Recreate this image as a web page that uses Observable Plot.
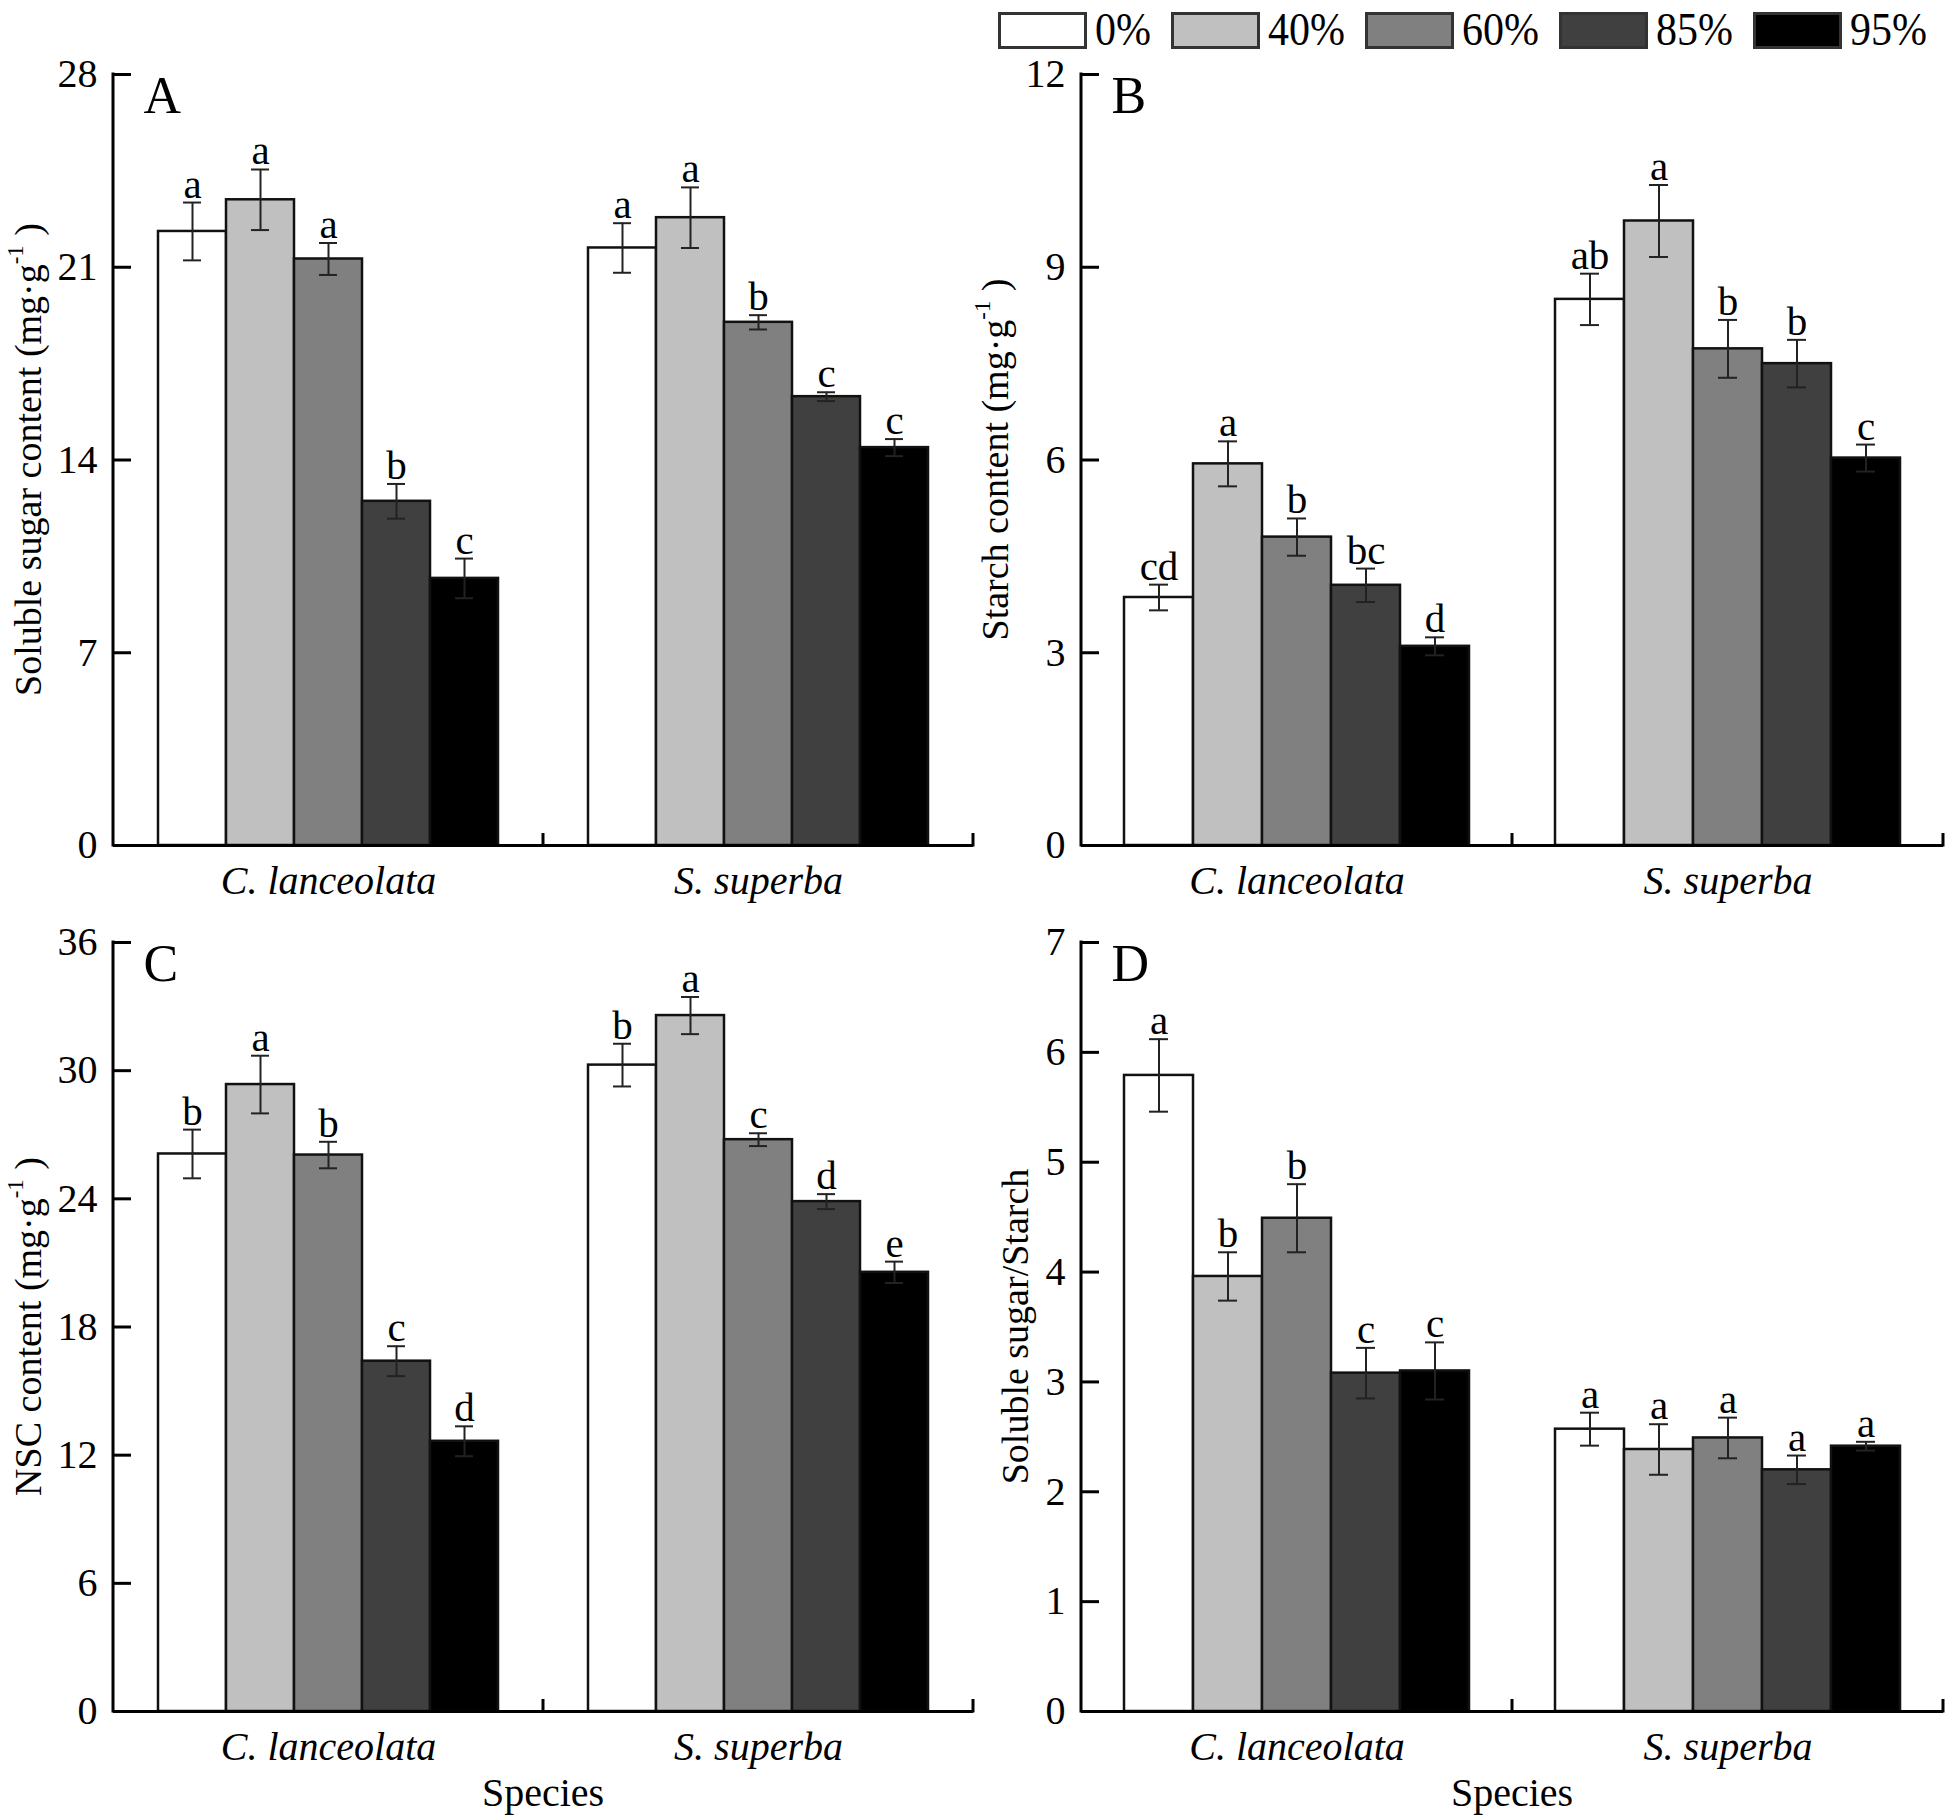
<!DOCTYPE html>
<html>
<head>
<meta charset="utf-8">
<script src="https://cdn.jsdelivr.net/npm/d3@7"></script>
<script src="https://cdn.jsdelivr.net/npm/@observablehq/plot@0.6"></script>
<style>
  body { margin: 0; background: #fff; }
  #fig { position: relative; width: 1946px; height: 1817px; font-family: "Liberation Serif", "Times New Roman", serif; color: #000; overflow: hidden; }
  .panel { position: absolute; }
  #legend { position: absolute; left: 998px; top: 9px; display: flex; align-items: center; }
  .item { display: flex; align-items: center; margin-right: 20px; }
  .swatch { box-sizing: border-box; width: 89px; height: 37px; border: 3px solid #333; }
  .lab { font-size: 42px; line-height: 1; margin-left: 8px; transform: scaleY(1.1); }
  .xtitle { position: absolute; font-size: 40px; line-height: 1; transform: translate(-50%, -50%); white-space: nowrap; }
</style>
</head>
<body>
<div id="fig"></div>
<script>
// ---- categories ----
const shades = ["0%", "40%", "60%", "85%", "95%"];
const species = ["C. lanceolata", "S. superba"];
const shadeColors = ["#ffffff", "#c0c0c0", "#808080", "#404040", "#000000"];

// ---- A: soluble sugar ----
const sugarMean = [[22.3, 23.45, 21.3, 12.5, 9.7], [21.7, 22.8, 19.0, 16.3, 14.45]];
const sugarErr  = [[1.05, 1.1, 0.58, 0.63, 0.72], [0.9, 1.1, 0.26, 0.16, 0.31]];
const sugarSig  = [["a", "a", "a", "b", "c"], ["a", "a", "b", "c", "c"]];
const sugarTicks = [0, 7, 14, 21, 28];

// ---- B: starch ----
const starchMean = [[3.86, 5.94, 4.8, 4.05, 3.1], [8.5, 9.72, 7.73, 7.5, 6.03]];
const starchErr  = [[0.2, 0.35, 0.29, 0.26, 0.14], [0.4, 0.56, 0.45, 0.37, 0.21]];
const starchSig  = [["cd", "a", "b", "bc", "d"], ["ab", "a", "b", "b", "c"]];
const starchTicks = [0, 3, 6, 9, 12];

// ---- C: NSC ----
const nscMean = [[26.1, 29.35, 26.05, 16.4, 12.65], [30.26, 32.58, 26.77, 23.87, 20.56]];
const nscErr  = [[1.14, 1.35, 0.62, 0.7, 0.7], [1.0, 0.87, 0.3, 0.35, 0.5]];
const nscSig  = [["b", "a", "b", "c", "d"], ["b", "a", "c", "d", "e"]];
const nscTicks = [0, 6, 12, 18, 24, 30, 36];

// ---- D: soluble sugar / starch ----
const ratioMean = [[5.79, 3.96, 4.49, 3.08, 3.1], [2.57, 2.385, 2.49, 2.2, 2.415]];
const ratioErr  = [[0.33, 0.22, 0.31, 0.23, 0.26], [0.15, 0.23, 0.185, 0.13, 0.04]];
const ratioSig  = [["a", "b", "b", "c", "c"], ["a", "a", "a", "a", "a"]];
const ratioTicks = [0, 1, 2, 3, 4, 5, 6, 7];

const fig = document.getElementById("fig");
const FONT = "Liberation Serif";

function panel(cfg) {
  const rows = [];
  species.forEach((sp, i) => shades.forEach((sh, j) => rows.push({
    species: sp, shade: sh, mean: cfg.mean[i][j], err: cfg.err[i][j], sig: cfg.sig[i][j]
  })));
  const yMax = cfg.ticks[cfg.ticks.length - 1];
  const chart = Plot.plot({
    width: cfg.width, height: cfg.height,
    marginTop: cfg.mTop, marginBottom: cfg.mBottom, marginLeft: cfg.mLeft, marginRight: cfg.mRight,
    style: { fontFamily: FONT, fontSize: "40px", color: "#000", background: "transparent", overflow: "visible" },
    fx: { domain: species, paddingInner: 0, paddingOuter: 0, axis: null, label: null },
    x: { domain: shades, paddingInner: 0, paddingOuter: 0.616, axis: null },
    y: { domain: [0, yMax], axis: null },
    color: { domain: shades, range: shadeColors },
    marks: [
      Plot.barY(rows, { fx: "species", x: "shade", y: "mean", fill: "shade", stroke: "#111", strokeWidth: 2.5 }),
      Plot.ruleX(rows, { fx: "species", x: "shade", y1: d => d.mean - d.err, y2: d => d.mean + d.err, stroke: "#222", strokeWidth: 2 }),
      Plot.tickY(rows, { fx: "species", x: "shade", y: d => d.mean + d.err, insetLeft: 25, insetRight: 25, stroke: "#222", strokeWidth: 2 }),
      Plot.tickY(rows, { fx: "species", x: "shade", y: d => d.mean - d.err, insetLeft: 25, insetRight: 25, stroke: "#222", strokeWidth: 2 }),
      Plot.text(rows, { fx: "species", x: "shade", y: d => d.mean + d.err, text: "sig", lineAnchor: "bottom", dy: -5, fontSize: 41, fill: "#000" }),
      Plot.ruleY([0], { stroke: "#000", strokeWidth: 3 }),
      Plot.axisY({ ticks: cfg.ticks, tickFormat: d => String(d), tickSize: -18, tickPadding: 34, strokeWidth: 3, fontSize: 40, label: null }),
      Plot.text(species, { fx: d => d, text: d => d, frameAnchor: "bottom", dy: 36, lineAnchor: "middle", fontStyle: "italic", fontSize: 40, fill: "#000" }),
      Plot.text([cfg.letter], { fx: () => species[0], text: d => d, frameAnchor: "top-left", textAnchor: "start", lineAnchor: "top", dx: 30, dy: 2, fontSize: 52, fill: "#000" })
    ]
  });

  // axis line, group separators and y title drawn from the library's scales
  const y = chart.scale("y");
  const fx = chart.scale("fx");
  const svg = d3.select(chart);
  const y0 = y.apply(0), yTop = y.apply(yMax);
  const bw = fx.bandwidth != null ? fx.bandwidth : (fx.range[1] - fx.range[0]) / species.length;
  const xLeft = fx.apply(species[0]);
  const g = svg.append("g").attr("stroke", "#000").attr("stroke-width", 3).attr("fill", "none");
  g.append("line").attr("x1", xLeft).attr("x2", xLeft).attr("y1", y0 + 1.5).attr("y2", yTop - 1.5);
  species.forEach(sp => {
    const xr = fx.apply(sp) + bw;
    g.append("line").attr("x1", xr).attr("x2", xr).attr("y1", y0 + 1.5).attr("y2", y0 - 12);
  });
  const t = svg.append("text")
    .attr("transform", `translate(${cfg.labelX},${(y0 + yTop) / 2}) rotate(-90)`)
    .attr("text-anchor", "middle").attr("dominant-baseline", "central")
    .attr("font-family", FONT).attr("font-size", 38).attr("fill", "#000");
  t.append("tspan").text(cfg.yLabel);
  if (cfg.sup) {
    t.append("tspan").attr("baseline-shift", "super").attr("font-size", "60%").text(cfg.sup);
    t.append("tspan").text(cfg.after);
  }

  chart.classList.add("panel");
  chart.style.left = cfg.left + "px";
  chart.style.top = cfg.top + "px";
  fig.appendChild(chart);
}

const topRow = { top: 50, height: 860, mTop: 24, mBottom: 65 };
const botRow = { top: 918, height: 899, mTop: 24, mBottom: 106 };
const leftCol = { left: 0, width: 980, mLeft: 113, mRight: 7 };
const rightCol = { left: 966, width: 980, mLeft: 115, mRight: 3 };

panel({ ...topRow, ...leftCol, mean: sugarMean, err: sugarErr, sig: sugarSig, ticks: sugarTicks, letter: "A",
  yLabel: "Soluble sugar content (mg·g", sup: "-1", after: " )", labelX: 28 });
panel({ ...topRow, ...rightCol, mean: starchMean, err: starchErr, sig: starchSig, ticks: starchTicks, letter: "B",
  yLabel: "Starch content (mg·g", sup: "-1", after: " )", labelX: 29 });
panel({ ...botRow, ...leftCol, mean: nscMean, err: nscErr, sig: nscSig, ticks: nscTicks, letter: "C",
  yLabel: "NSC content (mg·g", sup: "-1", after: " )", labelX: 28 });
panel({ ...botRow, ...rightCol, mean: ratioMean, err: ratioErr, sig: ratioSig, ticks: ratioTicks, letter: "D",
  yLabel: "Soluble sugar/Starch", labelX: 49 });

// x titles
[[543, 1793], [1512, 1793]].forEach(([x, yy]) => {
  const d = document.createElement("div");
  d.className = "xtitle";
  d.style.left = x + "px"; d.style.top = yy + "px";
  d.textContent = "Species";
  fig.appendChild(d);
});

// legend
const legend = document.createElement("div");
legend.id = "legend";
shades.forEach((s, i) => {
  const it = document.createElement("div"); it.className = "item";
  const sw = document.createElement("div"); sw.className = "swatch"; sw.style.background = shadeColors[i];
  const lb = document.createElement("div"); lb.className = "lab"; lb.textContent = s;
  it.appendChild(sw); it.appendChild(lb); legend.appendChild(it);
});
fig.appendChild(legend);
</script>
</body>
</html>
